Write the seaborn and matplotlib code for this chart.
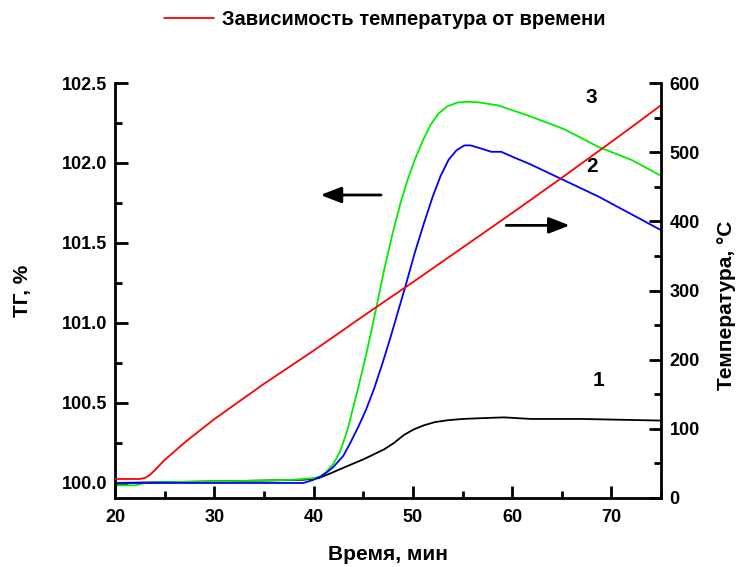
import numpy as np
import pandas as pd
import matplotlib
matplotlib.use("Agg")
import matplotlib.pyplot as plt
import seaborn as sns
from matplotlib.ticker import MultipleLocator

# ---------------- data ----------------
x_black = [20, 25, 30, 35, 39, 40.5, 41.7, 43.2, 45.1, 47.1, 48.1, 49.1, 50.1, 51.1, 52.2, 53.5, 55, 56.9,
           59.2, 61.9, 67, 75]
y_black = [100.0, 100.005, 100.01, 100.015, 100.02, 100.03, 100.06, 100.1, 100.15, 100.21, 100.25, 100.30,
           100.335, 100.36, 100.38, 100.392, 100.4, 100.405, 100.41, 100.40, 100.40, 100.39]

x_green = [20, 22, 23, 25, 30, 35, 38, 40, 40.7, 41.3, 42.0, 42.7, 43.4, 44.4, 45.4, 46.3, 47.1, 48.0,
           48.8, 49.5, 50.2, 51.0, 51.8, 52.6, 53.5, 54.5, 55.5, 56.5, 58.6, 60, 61.9, 65.3, 68.7, 72, 75]
y_green = [99.985, 99.985, 100.0, 100.005, 100.01, 100.015, 100.02, 100.03, 100.04, 100.07, 100.12,
           100.2, 100.33, 100.57, 100.83, 101.09, 101.33, 101.57, 101.76, 101.9, 102.02, 102.14, 102.24,
           102.31, 102.355, 102.378, 102.383, 102.38, 102.36, 102.33, 102.29, 102.21, 102.10, 102.02, 101.92]

x_blue = [20, 30, 39, 40, 40.7, 41.4, 42, 43, 43.7, 44.5, 45.3, 46.1, 46.9, 47.7, 48.5, 49.3, 50.2, 51.1,
          52, 52.8, 53.6, 54.4, 55.2, 55.8, 56.9, 57.9, 58.9, 60, 61.9, 65.3, 68.7, 72, 75]
y_blue = [100.0, 100.0, 100.0, 100.02, 100.04, 100.07, 100.1, 100.17, 100.25, 100.35, 100.46, 100.59,
          100.74, 100.9, 101.07, 101.24, 101.44, 101.62, 101.79, 101.92, 102.02, 102.08, 102.11, 102.11,
          102.09, 102.07, 102.07, 102.04, 101.99, 101.89, 101.79, 101.68, 101.58]

x_temp = [20, 22.5, 23.0, 23.5, 24.0, 25, 27, 30, 35, 40, 45, 50, 55, 60, 65, 70, 72, 75]
t_temp = [27.5, 27.5, 29, 33, 40, 55, 80, 114, 165, 213, 263, 312, 362, 412, 463, 515, 536, 568]

x_ticks = [20, 30, 40, 50, 60, 70]
tg_ticks = [100.0, 100.5, 101.0, 101.5, 102.0, 102.5]
t_ticks = [0, 100, 200, 300, 400, 500, 600]

curve_labels = ["1", "2", "3"]
legend_label = "Зависимость температура от времени"

# ---------------- style ----------------
sns.set_theme(style="ticks")
plt.rcParams["font.family"] = ["Liberation Sans", "DejaVu Sans"]
plt.rcParams["font.weight"] = "bold"
plt.rcParams["axes.labelweight"] = "bold"
for k in ["text.color", "axes.labelcolor", "xtick.color", "ytick.color", "axes.edgecolor"]:
    plt.rcParams[k] = "black"

fig = plt.figure(figsize=(7.37, 5.67), dpi=100)
ax = fig.add_axes([0.156, 0.1217, 0.741, 0.7319])
ax2 = ax.twinx()

lw = 1.3
sns.lineplot(x=x_black, y=y_black, ax=ax, color="black", lw=lw, estimator=None, sort=False)
sns.lineplot(x=x_green, y=y_green, ax=ax, color="#00EE00", lw=lw, estimator=None, sort=False)
sns.lineplot(x=x_blue, y=y_blue, ax=ax, color="#0000FF", lw=lw, estimator=None, sort=False)
sns.lineplot(x=x_temp, y=t_temp, ax=ax2, color="#FF0000", lw=lw, estimator=None, sort=False,
             label=legend_label, legend=False)

ax.set_xlim(20, 75)
ax.set_ylim(99.906, 102.5)
ax2.set_ylim(0, 600)
ax.set_xticks(x_ticks)
ax.set_yticks(tg_ticks)
ax.set_yticklabels([f"{v:.1f}" for v in tg_ticks])
ax2.set_yticks(t_ticks)
ax.xaxis.set_minor_locator(MultipleLocator(5))
ax.yaxis.set_minor_locator(MultipleLocator(0.25))
ax2.yaxis.set_minor_locator(MultipleLocator(50))

for a in (ax, ax2):
    a.spines["top"].set_visible(False)
    for s in a.spines.values():
        s.set_linewidth(2)
        s.set_color("black")
ax.spines["right"].set_visible(False)
ax2.spines["left"].set_visible(False)
ax2.spines["bottom"].set_visible(False)

ax.tick_params(axis="both", which="major", direction="in", length=9, width=2, labelsize=13, colors="black")
ax.tick_params(axis="both", which="minor", direction="in", length=5, width=2)
ax.tick_params(axis="y", pad=5.5)
ax.tick_params(axis="x", pad=8)
ax.tick_params(top=False, right=False, which="both")
ax2.tick_params(axis="y", which="major", direction="in", length=9, width=2, labelsize=13, pad=6, colors="black")
ax2.tick_params(axis="y", which="minor", direction="in", length=5, width=2)
for lab in ax.get_xticklabels() + ax.get_yticklabels() + ax2.get_yticklabels():
    lab.set_fontweight("bold")
    lab.set_color("black")

ax.set_xlabel("Время, мин", fontsize=15, fontweight="bold", color="black")
ax.set_ylabel("ТГ, %", fontsize=15, fontweight="bold", color="black")
ax2.set_ylabel("Температура, °C", fontsize=15, fontweight="bold", color="black")
ax.xaxis.set_label_coords(0.5, -0.113)
ax.yaxis.set_label_coords(-0.152, 0.5)
ax2.yaxis.set_label_coords(1.1026, 0.465)

# curve numbers
for lab, xx, yy in zip(curve_labels, [68.7, 68.0, 68.0], [100.64, 101.98, 102.41]):
    ax.text(xx, yy, lab, fontsize=15, fontweight="bold", ha="center", va="center", color="black")

# arrows
arrow_kw = dict(arrowstyle="-|>,head_length=0.9,head_width=0.35", color="black", lw=2, mutation_scale=14,
                shrinkA=0, shrinkB=0)
ax.annotate("", xy=(40.7, 101.8), xytext=(46.8, 101.8), arrowprops=arrow_kw)
ax.annotate("", xy=(65.8, 101.61), xytext=(59.4, 101.61), arrowprops=arrow_kw)

# legend at top
h, l = ax2.get_legend_handles_labels()
leg = fig.legend(h, l, loc="center", bbox_to_anchor=(0.522, 0.965), frameon=False,
                 prop={"size": 14.5, "weight": "bold"}, handlelength=2.5, handletextpad=0.4)
for t in leg.get_texts():
    t.set_color("black")

fig.savefig("out.png", dpi=100)
